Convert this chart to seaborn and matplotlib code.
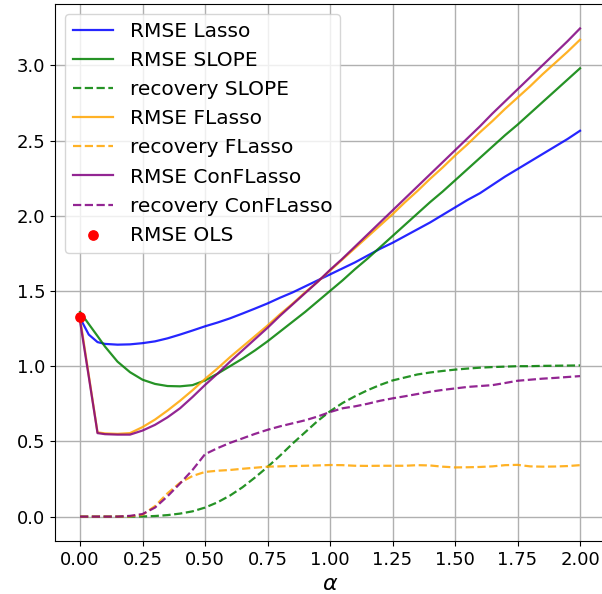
import numpy as np
import pandas as pd
import matplotlib
matplotlib.use("Agg")
import matplotlib.pyplot as plt
import seaborn as sns

# alpha grid
alpha = [0, 0.035, 0.07, 0.1, 0.15, 0.2, 0.25, 0.3, 0.35, 0.4, 0.45, 0.5, 0.55, 0.6,
         0.65, 0.7, 0.75, 0.8, 0.85, 0.9, 0.95, 1.0, 1.05, 1.1, 1.15, 1.2, 1.25, 1.3,
         1.35, 1.4, 1.45, 1.5, 1.55, 1.6, 1.65, 1.7, 1.75, 1.8, 1.85, 1.9, 1.95, 2.0]

rmseLasso = [1.32, 1.21, 1.16, 1.148, 1.143, 1.145, 1.153, 1.165, 1.185, 1.21, 1.237, 1.265, 1.29, 1.318,
             1.35, 1.383, 1.417, 1.455, 1.49, 1.53, 1.57, 1.61, 1.65, 1.69, 1.735, 1.78, 1.82, 1.865,
             1.91, 1.955, 2.005, 2.055, 2.105, 2.15, 2.205, 2.26, 2.31, 2.36, 2.41, 2.46, 2.51, 2.565]
rmseSlope = [1.36, 1.28, 1.20, 1.13, 1.03, 0.96, 0.91, 0.882, 0.868, 0.866, 0.874, 0.905, 0.95, 1.0,
             1.05, 1.105, 1.165, 1.23, 1.295, 1.36, 1.43, 1.50, 1.57, 1.645, 1.715, 1.79, 1.865, 1.94,
             2.015, 2.09, 2.16, 2.235, 2.31, 2.385, 2.46, 2.535, 2.605, 2.68, 2.755, 2.83, 2.905, 2.98]
recSlope = [0, 0, 0, 0, 0, 0, 0.001, 0.004, 0.01, 0.02, 0.035, 0.06, 0.095, 0.14,
            0.195, 0.26, 0.33, 0.405, 0.485, 0.56, 0.635, 0.70, 0.755, 0.80, 0.84, 0.875, 0.905, 0.925,
            0.945, 0.958, 0.968, 0.977, 0.984, 0.99, 0.994, 0.997, 1.0, 1.0, 1.002, 1.003, 1.004, 1.005]
rmseFLasso = [1.32, 0.94, 0.56, 0.553, 0.55, 0.555, 0.595, 0.645, 0.705, 0.77, 0.84, 0.915, 0.985, 1.06,
              1.13, 1.20, 1.27, 1.345, 1.415, 1.49, 1.56, 1.635, 1.71, 1.785, 1.86, 1.935, 2.01, 2.09,
              2.165, 2.245, 2.32, 2.40, 2.475, 2.555, 2.63, 2.71, 2.785, 2.86, 2.94, 3.015, 3.09, 3.17]
recFLasso = [0, 0, 0, 0, 0, 0.002, 0.012, 0.07, 0.155, 0.225, 0.27, 0.297, 0.305, 0.31,
             0.318, 0.325, 0.332, 0.334, 0.336, 0.338, 0.34, 0.343, 0.342, 0.338, 0.337, 0.338, 0.338, 0.338,
             0.342, 0.340, 0.332, 0.327, 0.328, 0.330, 0.334, 0.342, 0.344, 0.334, 0.332, 0.333, 0.336, 0.342]
rmseConFLasso = [1.30, 0.93, 0.555, 0.548, 0.545, 0.545, 0.572, 0.61, 0.66, 0.72, 0.795, 0.875, 0.95, 1.03,
                 1.105, 1.18, 1.255, 1.335, 1.41, 1.485, 1.56, 1.64, 1.715, 1.795, 1.875, 1.955, 2.035, 2.115,
                 2.195, 2.275, 2.355, 2.435, 2.515, 2.595, 2.68, 2.76, 2.84, 2.92, 3.0, 3.08, 3.16, 3.245]
recConFLasso = [0, 0, 0, 0, 0, 0.005, 0.017, 0.06, 0.135, 0.22, 0.31, 0.415, 0.455, 0.49,
                0.52, 0.55, 0.577, 0.60, 0.62, 0.64, 0.665, 0.695, 0.72, 0.733, 0.75, 0.77, 0.786, 0.80,
                0.815, 0.83, 0.842, 0.852, 0.862, 0.868, 0.874, 0.888, 0.903, 0.91, 0.917, 0.922, 0.928, 0.934]
rmseOLS = 1.325

data = pd.DataFrame({"alpha": alpha, "rmseLasso": rmseLasso, "rmseSlope": rmseSlope,
                     "recSlope": recSlope, "rmseFLasso": rmseFLasso, "recFLasso": recFLasso,
                     "rmseConFLasso": rmseConFLasso, "recConFLasso": recConFLasso})

fig = plt.figure(figsize=(6.02, 5.94), dpi=100)
ax = fig.add_axes([0.0914, 0.0892, 0.9136, 0.904])

# (column, label, colour, linestyle)
series = [("rmseLasso", "RMSE Lasso", "blue", "-"),
          ("rmseSlope", "RMSE SLOPE", "green", "-"),
          ("recSlope", "recovery SLOPE", "green", "--"),
          ("rmseFLasso", "RMSE FLasso", "orange", "-"),
          ("recFLasso", "recovery FLasso", "orange", "--"),
          ("rmseConFLasso", "RMSE ConFLasso", "purple", "-"),
          ("recConFLasso", "recovery ConFLasso", "purple", "--")]

for col, lab, c, ls in series:
    sns.lineplot(data=data, x="alpha", y=col, label=lab, color=c, linestyle=ls,
                 linewidth=1.6, alpha=0.85, ax=ax)

ax.scatter([0], [rmseOLS], color="red", s=45, zorder=5, label="RMSE OLS")

ax.grid(True, color="#b0b0b0", linewidth=1)
ax.set_axisbelow(True)
ax.set_xticks([0, 0.25, 0.5, 0.75, 1.0, 1.25, 1.5, 1.75, 2.0])
ax.tick_params(labelsize=13)
ax.set_xlabel(r"$\alpha$", fontsize=16)
ax.set_ylabel("")
ax.legend(loc="upper left", fontsize=14.5)

plt.savefig("out.png", dpi=100)
